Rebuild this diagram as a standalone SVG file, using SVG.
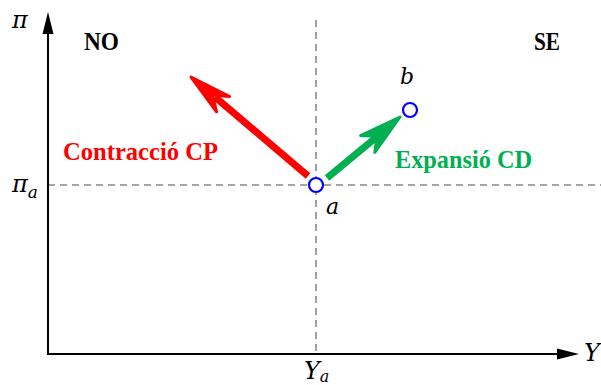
<svg xmlns="http://www.w3.org/2000/svg" width="601" height="385" viewBox="0 0 601 385">
<style>
.axis{stroke:#000;stroke-width:2;fill:none}
.dash{stroke:#888;stroke-width:1.6;stroke-dasharray:7,5;fill:none}
.pt{fill:#fff;stroke:#0000ff;stroke-width:2.2}
.lbl{font-family:"Liberation Serif","DejaVu Serif",serif;font-weight:bold;font-size:25px}
.math{font-family:"DejaVu Serif","Liberation Serif",serif;font-style:italic;fill:#000}
</style>
<rect width="601" height="385" fill="#fff"/>
<g id="connectors">
<line class="dash" x1="316" y1="20" x2="316" y2="354"/>
<line class="dash" x1="48" y1="185" x2="601" y2="185"/>
<line class="axis" x1="48" y1="354" x2="48" y2="30"/>
<polygon points="48,12 42.5,34 53.5,34" fill="#000"/>
<line class="axis" x1="47" y1="354" x2="560" y2="354"/>
<polygon points="579,354 557,348.5 557,359.5" fill="#000"/>
<g id="arrow-contraccio">
<line x1="308" y1="176" x2="215" y2="97" stroke="#ff0000" stroke-width="7"/>
<polygon points="191,77 229.6,96.5 212.4,95.1 216.6,111.8" fill="#ff0000" stroke="#ff0000" stroke-width="3" stroke-linejoin="round"/>
</g>
<g id="arrow-expansio">
<line x1="327" y1="178" x2="379" y2="135" stroke="#00b050" stroke-width="7"/>
<polygon points="400,117 374.8,152.4 377,136.3 360.6,135.6" fill="#00b050" stroke="#00b050" stroke-width="3" stroke-linejoin="round"/>
</g>
</g>
<g id="point-a">
<circle class="pt" cx="316" cy="185" r="7"/>
<text class="math" x="326" y="214" font-size="22">a</text>
</g>
<g id="point-b">
<circle class="pt" cx="410" cy="110" r="7"/>
<text class="math" x="400" y="84" font-size="22">b</text>
</g>
<g id="labels">
<text class="lbl" x="84" y="50" fill="#000" textLength="35" lengthAdjust="spacingAndGlyphs">NO</text>
<text class="lbl" x="534" y="50" fill="#000" textLength="26" lengthAdjust="spacingAndGlyphs">SE</text>
<text class="lbl" x="63" y="160" fill="#ff0000" textLength="155" lengthAdjust="spacingAndGlyphs">Contracció CP</text>
<text class="lbl" x="395" y="168" fill="#00b050" textLength="137" lengthAdjust="spacingAndGlyphs">Expansió CD</text>
<text class="math" x="12" y="28" font-size="24">π</text>
<text class="math" x="12" y="192" font-size="24">π<tspan font-size="17" dy="6">a</tspan></text>
<text class="math" x="584" y="361" font-size="24">Y</text>
<text class="math" x="304" y="379" font-size="24">Y<tspan font-size="16" dy="3">a</tspan></text>
</g>
</svg>
